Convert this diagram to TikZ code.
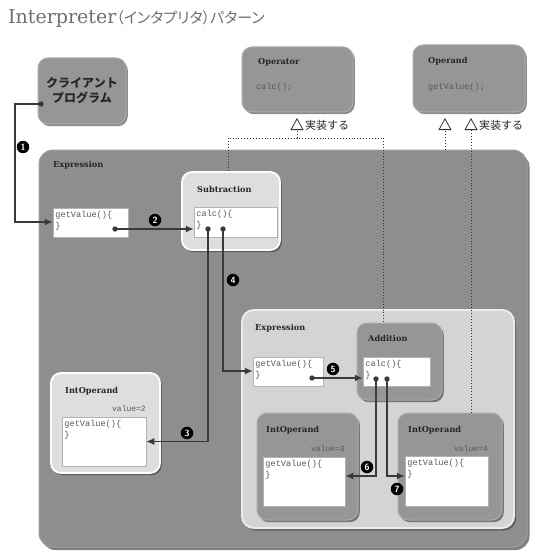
\documentclass[tikz,border=0pt]{standalone}
\usepackage{fontspec}
\setmainfont{DejaVu Serif}
\newfontfamily\jp{Noto Sans CJK JP}
\newfontfamily\jpt[RawFeature=+palt]{Noto Sans CJK JP}
\newfontfamily\codefont{Liberation Mono}
\usetikzlibrary{arrows.meta,shadows,calc}
\definecolor{boxdark}{HTML}{969696}
\definecolor{outerfill}{HTML}{8E8E8E}
\definecolor{boxlight}{HTML}{DEDEDE}
\definecolor{innerfill}{HTML}{D4D4D4}
\definecolor{linec}{HTML}{3A3A3A}
\definecolor{titlec}{HTML}{6E6E6E}
\begin{document}
\begin{tikzpicture}[x=1pt,y=-1pt,
  box/.style={rectangle, rounded corners=10pt, inner sep=0pt},
  darkbox/.style={box, fill=boxdark, draw=boxdark!80!white, line width=1pt,
    drop shadow={shadow xshift=1.8pt, shadow yshift=-2.2pt, fill=black, opacity=.45}},
  lightbox/.style={box, fill=boxlight, draw=white, line width=1.8pt,
    drop shadow={shadow xshift=1.8pt, shadow yshift=-2.2pt, fill=black, opacity=.35}},
  outerbox/.style={box, rounded corners=14pt, fill=outerfill, draw=outerfill!85!white, line width=1pt,
    drop shadow={shadow xshift=2.5pt, shadow yshift=-3pt, fill=black, opacity=.5}},
  innerbox/.style={box, rounded corners=12pt, fill=innerfill, draw=white!92!black, line width=2pt,
    drop shadow={shadow xshift=2pt, shadow yshift=-2.5pt, fill=black, opacity=.35}},
  codebox/.style={rectangle, fill=white, draw=gray!60, line width=.5pt, inner sep=0pt},
  lbl/.style={inner sep=0pt, text=black!85, font=\bfseries\fontsize{8.2}{10}\selectfont},
  code/.style={inner sep=0pt, text=black!65, align=left, font=\codefont\fontsize{8.6}{11}\selectfont},
  jptext/.style={inner sep=0pt, text=black!85, font=\jp\fontsize{11}{13}\selectfont},
  num/.style={circle, fill=black, text=white, inner sep=0pt, minimum size=12.5pt,
    font=\sffamily\bfseries\fontsize{9}{9}\selectfont},
  conn/.style={draw=linec, line width=1.4pt, -{Latex[length=8pt,width=7pt]}},
  implline/.style={draw=black!80, line width=.9pt, dotted},
  impl/.style={implline, -{Triangle[open, length=12pt, width=13pt, line width=.8pt]}},
  dotc/.style={fill=linec}
]
\useasboundingbox (0,0) rectangle (540,559);

% title
\node[anchor=west, inner sep=0pt, text=titlec] (title) at (8,19)
  {\fontsize{19}{22}\selectfont Interpreter\jpt\fontsize{15}{22}\selectfont （インタプリタ）パターン};

% top boxes
\node[darkbox, minimum width=88pt, minimum height=66pt, align=center,
  font=\jp\bfseries\fontsize{12}{15}\selectfont, text=black!85] (client) at (82,91) {クライアント\\プログラム};

\node[darkbox, minimum width=111pt, minimum height=65pt] (operator) at (297.5,79.5) {};
\node[lbl, anchor=west] (operatorlbl) at (258,62) {Operator};
\node[code, anchor=west] (operatorcode) at (256,87) {calc();};

\node[darkbox, minimum width=112pt, minimum height=67pt] (operand) at (469,78.5) {};
\node[lbl, anchor=west] (operandlbl) at (428,61) {Operand};
\node[code, anchor=west] (operandcode) at (428,87) {getValue();};

\coordinate (optip) at (297,118);
\coordinate (opdtipa) at (445,118);
\coordinate (opdtipb) at (471,118);
\node[jptext, anchor=west] (impltxta) at (305,125) {実装する};
\node[jptext, anchor=west] (impltxtb) at (479,125) {実装する};

% outer expression
\node[outerbox, minimum width=488pt, minimum height=397pt] (outer) at (283,348.5) {};
\node[lbl, anchor=west] (outerlbl) at (53,165) {Expression};

% subtraction
\node[lightbox, minimum width=98pt, minimum height=78pt] (sub) at (231,211) {};
\node[lbl, anchor=west] (sublbl) at (197,189) {Subtraction};
\node[codebox, minimum width=83pt, minimum height=30pt] (calca) at (235.5,222) {};
\node[code, anchor=north west] (calcatxt) at ([shift={(2.5pt,-3pt)}]calca.north west) {calc()\{\\\}};

% getValue in outer
\node[codebox, minimum width=75pt, minimum height=29pt] (gva) at (90.5,222.5) {};
\node[code, anchor=north west] (gvatxt) at ([shift={(2.5pt,-3pt)}]gva.north west) {getValue()\{\\\}};

% IntOperand value=2
\node[lightbox, minimum width=109pt, minimum height=100pt] (intopa) at (105.5,423) {};
\node[lbl, anchor=west] (intopalbl) at (65,391) {IntOperand};
\node[code, anchor=east, font=\codefont\fontsize{8}{10}\selectfont] (vala) at (146,409) {value=2};
\node[codebox, minimum width=84pt, minimum height=49pt] (gvb) at (104,441.5) {};
\node[code, anchor=north west] (gvbtxt) at ([shift={(2.5pt,-3pt)}]gvb.north west) {getValue()\{\\\}};

% inner expression
\node[innerbox, minimum width=272pt, minimum height=218pt] (inner) at (378,419) {};
\node[lbl, anchor=west] (innerlbl) at (255,328) {Expression};
\node[codebox, minimum width=70pt, minimum height=29pt] (gvc) at (288,371.5) {};
\node[code, anchor=north west] (gvctxt) at ([shift={(2.5pt,-3pt)}]gvc.north west) {getValue()\{\\\}};

% addition
\node[darkbox, minimum width=85pt, minimum height=77pt] (add) at (399.5,361.5) {};
\node[lbl, anchor=west] (addlbl) at (368,338) {Addition};
\node[codebox, minimum width=67pt, minimum height=29pt] (calcb) at (396.5,371.5) {};
\node[code, anchor=north west] (calcbtxt) at ([shift={(2.5pt,-3pt)}]calcb.north west) {calc()\{\\\}};

% IntOperand value=3
\node[darkbox, minimum width=101pt, minimum height=107pt] (intopb) at (307.5,466.5) {};
\node[lbl, anchor=west] (intopblbl) at (266,430) {IntOperand};
\node[code, anchor=east, font=\codefont\fontsize{8}{10}\selectfont] (valb) at (345,449) {value=3};
\node[codebox, minimum width=82pt, minimum height=49pt] (gvd) at (304,481.5) {};
\node[code, anchor=north west] (gvdtxt) at ([shift={(2.5pt,-3pt)}]gvd.north west) {getValue()\{\\\}};

% IntOperand value=4
\node[darkbox, minimum width=104pt, minimum height=107pt] (intopc) at (450,466.5) {};
\node[lbl, anchor=west] (intopclbl) at (408,430) {IntOperand};
\node[code, anchor=east, font=\codefont\fontsize{8}{10}\selectfont] (valc) at (488,449) {value=4};
\node[codebox, minimum width=83pt, minimum height=50pt] (gve) at (446.5,481) {};
\node[code, anchor=north west] (gvetxt) at ([shift={(2.5pt,-3pt)}]gve.north west) {getValue()\{\\\}};

% implementation (dotted) links
\coordinate (junc) at (297,138);
\draw[implline] ([xshift=-3pt]sub.north) |- (junc) -| ([xshift=-16.5pt]add.north);
\draw[impl] (junc) -- (optip);
\draw[impl] (opdtipa |- outer.north) -- (opdtipa);
\draw[impl] (opdtipb |- intopc.north) -- (opdtipb);

% call dots
\coordinate (da) at (41,104);
\coordinate (db) at (115,229);
\coordinate (dc) at (208,229);
\coordinate (dd) at (223,229);
\coordinate (de) at (312,378);
\coordinate (df) at (376,379);
\coordinate (dg) at (387,379);
\coordinate (bend) at (15,222);

% call connectors
\draw[conn] (da) -| (bend) -- (bend -| gva.west);
\draw[conn] (db) -- (db -| calca.west);
\draw[conn] (dc) |- (gvb.east);
\draw[conn] (dd) |- ([yshift=0.5pt]gvc.west);
\draw[conn] (de) -- (de -| calcb.west);
\draw[conn] (df) |- ([yshift=5.5pt]gvd.east);
\draw[conn] (dg) |- ([yshift=5pt]gve.west);
\foreach \d in {da,db,dc,dd,de,df,dg} \fill[dotc] (\d) circle (2.7pt);

% step numbers
\node[num] (na) at (23,147) {1};
\node[num] (nb) at (155,220) {2};
\node[num] (nc) at (187,433) {3};
\node[num] (nd) at (233,280) {4};
\node[num] (ne) at (333,369) {5};
\node[num] (nf) at (367,467) {6};
\node[num] (ng) at (397,489) {7};
\end{tikzpicture}
\end{document}
